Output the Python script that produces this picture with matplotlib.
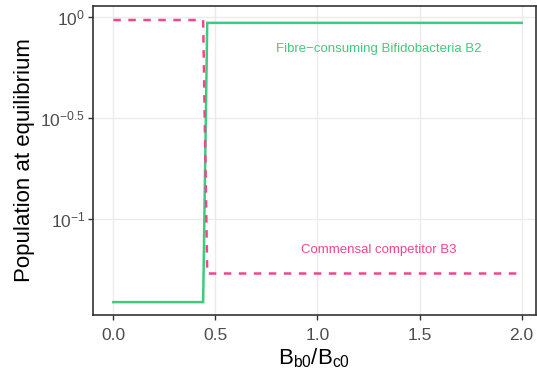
import numpy as np
import matplotlib
matplotlib.use('Agg')
from matplotlib import pyplot as plt
from matplotlib.ticker import FixedLocator, NullLocator

# data (ratio B_b0/B_c0 vs equilibrium population)
ratio = [0.0, 0.44, 0.46, 2.0]
b2_fibre = [0.039, 0.039, 0.935, 0.935]
b3_commensal = [0.966, 0.966, 0.054, 0.054]

x_ticks = [0.0, 0.5, 1.0, 1.5, 2.0]
y_ticks = [10**-1, 10**-0.5, 10**0]
y_ticklabels = ['$10^{-1}$', '$10^{-0.5}$', '$10^{0}$']

green = '#3FCB7C'
pink = '#F0468E'

plt.rcParams['font.family'] = ['Liberation Sans', 'DejaVu Sans']
plt.rcParams['mathtext.fontset'] = 'custom'
plt.rcParams['mathtext.rm'] = 'Liberation Sans'
plt.rcParams['mathtext.it'] = 'Liberation Sans'

fig = plt.figure(figsize=(5.37, 3.76), dpi=100)
ax = fig.add_axes([0.173, 0.162, 0.825, 0.822])

ax.plot(ratio, b2_fibre, color=green, lw=1.8, solid_joinstyle='miter')
ax.plot(ratio, b3_commensal, color=pink, lw=1.8, linestyle=(0, (3, 3)))

ax.set_yscale('log')
ax.set_xlim(-0.1, 2.07)
ax.set_ylim(10**-1.473, 10**0.054)
ax.xaxis.set_major_locator(FixedLocator(x_ticks))
ax.set_xticklabels(['%.1f' % t for t in x_ticks])
ax.yaxis.set_major_locator(FixedLocator(y_ticks))
ax.yaxis.set_minor_locator(NullLocator())
ax.set_yticklabels(y_ticklabels)

ax.grid(True, color='#EBEBEB', lw=1.0)
ax.set_axisbelow(True)
for s in ax.spines.values():
    s.set_color('#333333')
    s.set_linewidth(1.2)
ax.tick_params(colors='#333333', labelcolor='#4D4D4D', labelsize=12.5, length=3.5, width=1)
ax.tick_params(axis='x', pad=6)
ax.tick_params(axis='y', pad=2)

ax.text(1.30, 10**-0.158, 'Fibre\u2212consuming Bifidobacteria B2', color=green,
        fontsize=9.5, ha='center', va='center')
ax.text(1.30, 10**-1.153, 'Commensal competitor B3', color=pink,
        fontsize=9.5, ha='center', va='center')

ax.set_xlabel(r'$\mathrm{B_{b0}/B_{c0}}$', fontsize=16, labelpad=2)
ax.set_ylabel('Population at equilibrium', fontsize=16, labelpad=4)

fig.savefig('out.png', dpi=100)
